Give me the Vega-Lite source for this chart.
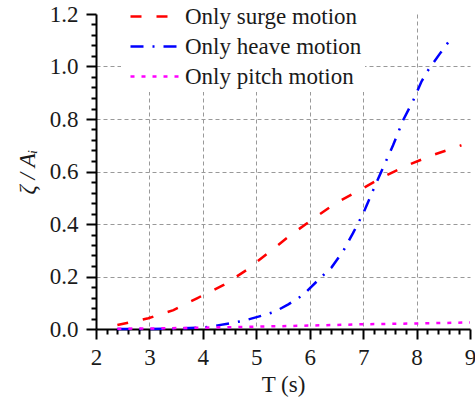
{
  "$schema": "https://vega.github.io/schema/vega-lite/v6.json",
  "autosize": "none",
  "width": 374,
  "height": 315,
  "padding": {"left": 96, "top": 14, "right": 5, "bottom": 74},
  "background": "white",
  "config": {
    "view": {"stroke": null},
    "font": "Times New Roman",
    "style": {"guide-label": {"font": "Times New Roman", "fontSize": 23}, "guide-title": {"font": "Times New Roman", "fontSize": 23}},
    "legend": {
      "labelFont": "Times New Roman",
      "labelFontSize": 23,
      "labelColor": "#1a1a1a",
      "labelLimit": 0
    }
  },
  "data": {
    "values": [
      {"T": 2.4, "v": 0.015, "s": "Only surge motion"},
      {"T": 2.98, "v": 0.041, "s": "Only surge motion"},
      {"T": 3.45, "v": 0.072, "s": "Only surge motion"},
      {"T": 3.89, "v": 0.117, "s": "Only surge motion"},
      {"T": 4.39, "v": 0.168, "s": "Only surge motion"},
      {"T": 4.82, "v": 0.225, "s": "Only surge motion"},
      {"T": 5.2, "v": 0.286, "s": "Only surge motion"},
      {"T": 5.63, "v": 0.356, "s": "Only surge motion"},
      {"T": 6.04, "v": 0.416, "s": "Only surge motion"},
      {"T": 6.5, "v": 0.481, "s": "Only surge motion"},
      {"T": 6.96, "v": 0.532, "s": "Only surge motion"},
      {"T": 7.38, "v": 0.58, "s": "Only surge motion"},
      {"T": 7.84, "v": 0.625, "s": "Only surge motion"},
      {"T": 8.31, "v": 0.663, "s": "Only surge motion"},
      {"T": 8.84, "v": 0.7, "s": "Only surge motion"},
      {"T": 2.4, "v": 0.0, "s": "Only heave motion"},
      {"T": 3.0, "v": 0.0, "s": "Only heave motion"},
      {"T": 3.5, "v": 0.002, "s": "Only heave motion"},
      {"T": 4.0, "v": 0.006, "s": "Only heave motion"},
      {"T": 4.2, "v": 0.011, "s": "Only heave motion"},
      {"T": 4.76, "v": 0.031, "s": "Only heave motion"},
      {"T": 5.04, "v": 0.047, "s": "Only heave motion"},
      {"T": 5.35, "v": 0.066, "s": "Only heave motion"},
      {"T": 5.6, "v": 0.094, "s": "Only heave motion"},
      {"T": 5.88, "v": 0.13, "s": "Only heave motion"},
      {"T": 6.16, "v": 0.187, "s": "Only heave motion"},
      {"T": 6.41, "v": 0.235, "s": "Only heave motion"},
      {"T": 6.63, "v": 0.298, "s": "Only heave motion"},
      {"T": 6.81, "v": 0.365, "s": "Only heave motion"},
      {"T": 7.0, "v": 0.44, "s": "Only heave motion"},
      {"T": 7.19, "v": 0.53, "s": "Only heave motion"},
      {"T": 7.38, "v": 0.618, "s": "Only heave motion"},
      {"T": 7.56, "v": 0.7, "s": "Only heave motion"},
      {"T": 7.75, "v": 0.796, "s": "Only heave motion"},
      {"T": 7.94, "v": 0.872, "s": "Only heave motion"},
      {"T": 8.09, "v": 0.942, "s": "Only heave motion"},
      {"T": 8.22, "v": 0.987, "s": "Only heave motion"},
      {"T": 8.44, "v": 1.05, "s": "Only heave motion"},
      {"T": 8.62, "v": 1.1, "s": "Only heave motion"},
      {"T": 2.4, "v": 0.001, "s": "Only pitch motion"},
      {"T": 3.0, "v": 0.002, "s": "Only pitch motion"},
      {"T": 4.0, "v": 0.005, "s": "Only pitch motion"},
      {"T": 5.0, "v": 0.009, "s": "Only pitch motion"},
      {"T": 6.0, "v": 0.013, "s": "Only pitch motion"},
      {"T": 7.0, "v": 0.018, "s": "Only pitch motion"},
      {"T": 8.0, "v": 0.021, "s": "Only pitch motion"},
      {"T": 9.0, "v": 0.025, "s": "Only pitch motion"}
    ]
  },
  "mark": {"type": "line", "strokeWidth": 2.5, "strokeCap": "butt"},
  "encoding": {
    "x": {
      "field": "T",
      "type": "quantitative",
      "scale": {"domain": [2, 9], "nice": false, "zero": false},
      "axis": {
        "title": "T (s)",
        "titleFont": "Times New Roman",
        "titleFontSize": 23,
        "titleFontWeight": "normal",
        "titleColor": "#1a1a1a",
        "labelFont": "Times New Roman",
        "labelFontSize": 23,
        "labelColor": "#1a1a1a",
        "labelOverlap": false,
        "labelFlush": false,
        "domain": true,
        "domainColor": "black",
        "domainWidth": 2,
        "ticks": true,
        "tickColor": "black",
        "tickWidth": 2,
        "grid": true,
        "gridColor": "#999999",
        "gridDash": [4, 3],
        "gridWidth": 1,
        "values": [2,2.2,2.4,2.6,2.8,3,3.2,3.4,3.6,3.8,4,4.2,4.4,4.6,4.8,5,5.2,5.4,5.6,5.8,6,6.2,6.4,6.6,6.8,7,7.2,7.4,7.6,7.8,8,8.2,8.4,8.6,8.8,9],
        "format": ".0f",
        "labelExpr": "abs(datum.value - round(datum.value)) < 0.001 ? datum.label : ''",
        "tickSize": {"condition": {"test": "abs(datum.value - round(datum.value)) < 0.001", "value": 10}, "value": 5},
        "gridOpacity": {"condition": {"test": "abs(datum.value - round(datum.value)) < 0.001 && datum.value > 2.01 && datum.value < 8.99", "value": 1}, "value": 0},
        "labelPadding": 7,
        "titlePadding": 4
      }
    },
    "y": {
      "field": "v",
      "type": "quantitative",
      "scale": {"domain": [0, 1.2], "nice": false, "zero": false},
      "axis": {
        "title": "ζ / Aᵢ",
        "titleFont": "Times New Roman",
        "titleFontSize": 23,
        "titleFontWeight": "normal",
        "titleFontStyle": "italic",
        "titleColor": "#1a1a1a",
        "labelFont": "Times New Roman",
        "labelFontSize": 23,
        "labelColor": "#1a1a1a",
        "labelOverlap": false,
        "labelFlush": false,
        "domain": true,
        "domainColor": "black",
        "domainWidth": 2,
        "ticks": true,
        "tickColor": "black",
        "tickWidth": 2,
        "grid": true,
        "gridColor": "#999999",
        "gridDash": [4, 3],
        "gridWidth": 1,
        "values": [0,0.04,0.08,0.12,0.16,0.2,0.24,0.28,0.32,0.36,0.4,0.44,0.48,0.52,0.56,0.6,0.64,0.68,0.72,0.76,0.8,0.84,0.88,0.92,0.96,1,1.04,1.08,1.12,1.16,1.2],
        "format": ".1f",
        "labelExpr": "abs(datum.value*5 - round(datum.value*5)) < 0.001 ? datum.label : ''",
        "tickSize": {"condition": {"test": "abs(datum.value*5 - round(datum.value*5)) < 0.001", "value": 10}, "value": 5},
        "gridOpacity": {"condition": {"test": "abs(datum.value*5 - round(datum.value*5)) < 0.001 && datum.value > 0.01 && datum.value < 1.19", "value": 1}, "value": 0},
        "labelPadding": 8,
        "titlePadding": 10
      }
    },
    "color": {
      "field": "s",
      "type": "nominal",
      "sort": ["Only surge motion", "Only heave motion", "Only pitch motion"],
      "scale": {"domain": ["Only surge motion", "Only heave motion", "Only pitch motion"], "range": ["#ff0000", "#0000ff", "#ff00ff"]},
      "legend": {
        "title": null,
        "orient": "none",
        "legendX": 25,
        "legendY": -12,
        "fillColor": "white",
        "padding": 3,
        "symbolType": "M-0.5,0H4.5",
        "symbolSize": 400,
        "symbolStrokeWidth": 2.5,
        "labelOffset": 38,
        "rowPadding": 6
      }
    },
    "strokeDash": {
      "field": "s",
      "type": "nominal",
      "sort": ["Only surge motion", "Only heave motion", "Only pitch motion"],
      "scale": {"domain": ["Only surge motion", "Only heave motion", "Only pitch motion"], "range": [[11, 15], [13, 9, 2, 9], [4, 7]]},
      "legend": {
        "title": null,
        "orient": "none",
        "legendX": 25,
        "legendY": -12,
        "fillColor": "white",
        "padding": 3,
        "symbolType": "M-0.5,0H4.5",
        "symbolSize": 400,
        "symbolStrokeWidth": 2.5,
        "labelOffset": 38,
        "rowPadding": 6
      }
    }
  }
}
